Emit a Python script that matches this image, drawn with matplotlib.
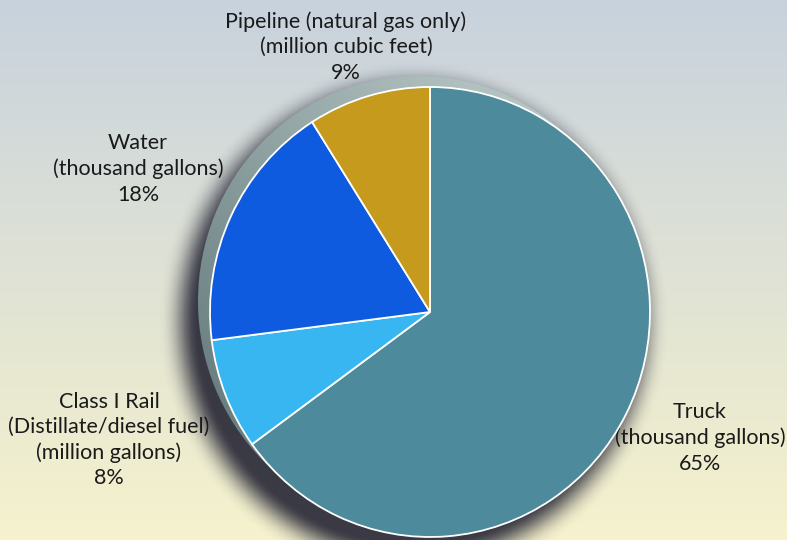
import numpy as np
import matplotlib.pyplot as plt
from matplotlib.patches import Ellipse

# data
modes = ["Truck", "Class I Rail\n(Distillate/diesel fuel)", "Water", "Pipeline (natural gas only)"]
units = ["(thousand gallons)", "(million gallons)", "(thousand gallons)", "(million cubic feet)"]
shares = [65, 8, 18, 9]
colors = ["#4d8a9b", "#38b6f2", "#0f5be0", "#c69a1c"]
label_pos = [(700, 438), (109, 440), (138, 169), (346, 47)]   # pixel centres from top-left

W, H = 787, 540
fig = plt.figure(figsize=(W / 100, H / 100), dpi=100)
bg = fig.add_axes([0, 0, 1, 1])

# background gradient (top blue-grey -> bottom pale yellow)
top = np.array([200, 210, 221]) / 255
bot = np.array([246, 242, 205]) / 255
t = np.linspace(0, 1, 256)[:, None]
grad = top[None, :] * (1 - t) + bot[None, :] * t
bg.imshow(grad[:, None, :], extent=[0, W, H, 0], aspect="auto", zorder=0)
bg.set_xlim(0, W)
bg.set_ylim(H, 0)
bg.axis("off")

# pie axes: radius 1 maps to 220 px wide, 225 px tall, centre at (430, 312)
cx, cy, rx, ry = 430, 312, 220, 225
L = 1.35
aw, ah = rx * L * 2, ry * L * 2
ax = fig.add_axes([(cx - aw / 2) / W, (H - cy - ah / 2) / H, aw / W, ah / H])
ax.set_xlim(-L, L)
ax.set_ylim(-L, L)

# soft drop shadow
n = 500
g = np.linspace(-L, L, n)
xx, yy = np.meshgrid(g, g)
d = (np.hypot(xx + 0.075, yy + 0.045) - 1) * 220
u = np.clip((d + 4) / 44, 0, 1)
a = (1 - u * u * (3 - 2 * u)) ** 1.6 * 0.85
shadow = np.zeros((n, n, 4))
shadow[..., 0] = 0.10
shadow[..., 1] = 0.10
shadow[..., 2] = 0.17
shadow[..., 3] = a
ax.imshow(shadow, extent=[-L, L, -L, L], origin="lower", aspect="auto", zorder=1)

# rim of the disc (offset up-left), lighter toward top-right
rim = Ellipse((-12 / rx, 11 / ry), 2, 2, facecolor="none", edgecolor="none", zorder=2)
ax.add_patch(rim)
rc1 = np.array([182, 198, 196]) / 255
rc2 = np.array([105, 126, 128]) / 255
s = np.clip((xx + yy + 1.4) / 2.8, 0, 1)[..., None]
rgrad = rc2 * (1 - s) + rc1 * s
im = ax.imshow(rgrad, extent=[-L, L, -L, L], origin="lower", aspect="auto", zorder=2)
im.set_clip_path(rim)

wedges, _ = ax.pie(shares, colors=colors, startangle=90, counterclock=False,
                   radius=1, center=(0, 0), frame=True,
                   wedgeprops=dict(edgecolor="white", linewidth=1.3))
for w in wedges:
    w.set_zorder(3)
ax.set_xlim(-L, L)
ax.set_ylim(-L, L)
ax.set_aspect("auto")
ax.axis("off")

for m, u_, p, (x, y) in zip(modes, units, shares, label_pos):
    bg.text(x, y, f"{m}\n{u_}\n{p}%", ha="center", va="center", fontsize=15.5,
            family="Lato", color="#1a1a1a", linespacing=1.33, zorder=4)

fig.savefig("out.png", dpi=100)
